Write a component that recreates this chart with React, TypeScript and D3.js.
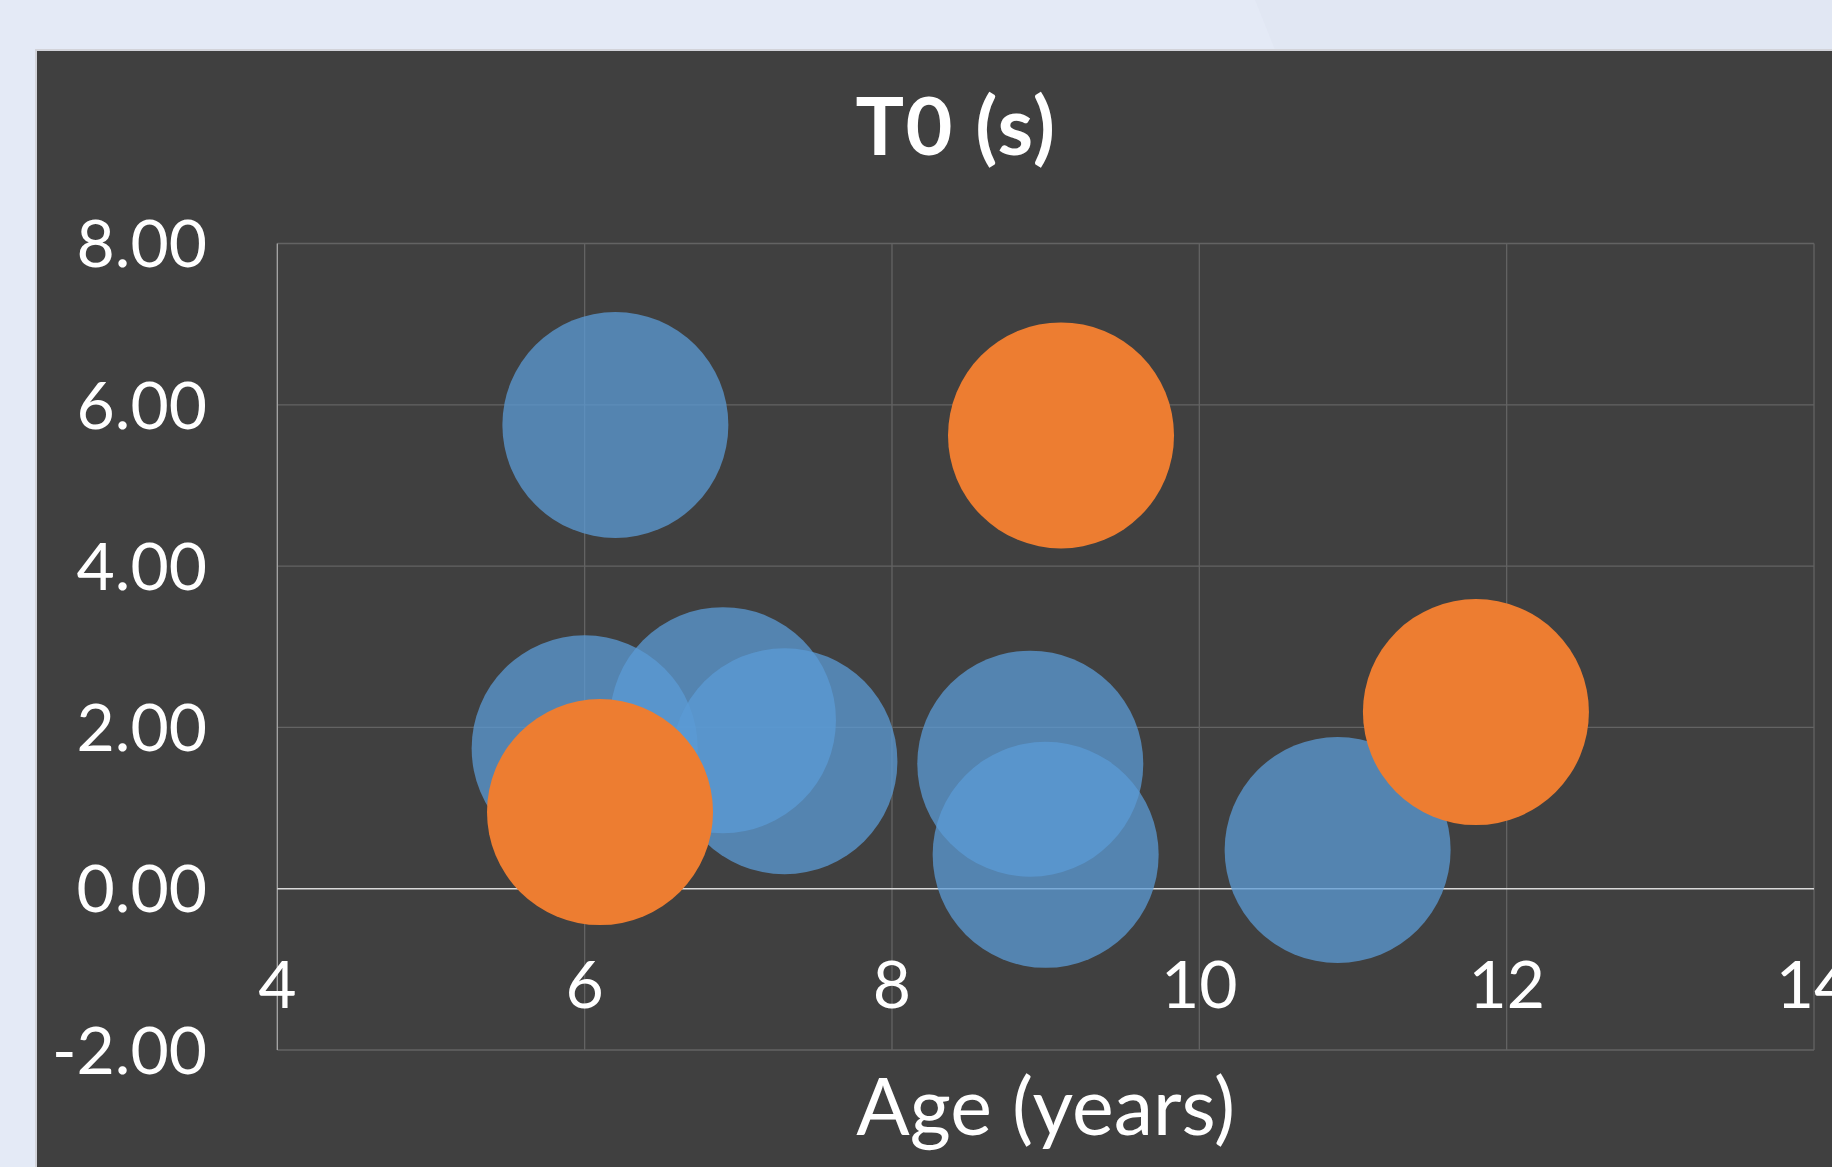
import React from 'react';
import * as d3 from 'd3';

// chart values
const title = 'T0 (s)';
const xTitle = 'Age (years)';
const xTicks = [4, 6, 8, 10, 12, 14];
const yTicks = [-2, 0, 2, 4, 6, 8];

const ageBlue = [6.2, 6.0, 6.9, 7.3, 8.9, 9.0, 10.9];
const t0Blue = [5.75, 1.74, 2.09, 1.58, 1.55, 0.42, 0.48];
const sizeBlue = [1, 1, 1, 1, 1, 1, 1];

const ageOrange = [9.1, 6.1, 11.8];
const t0Orange = [5.62, 0.95, 2.19];
const sizeOrange = [1, 1, 1];

const W = 1832;
const H = 1167;
const FONT = 'Lato, "Open Sans", sans-serif';

const locale = d3.formatLocale({
  decimal: '.',
  thousands: ',',
  grouping: [3],
  currency: ['', ''],
  minus: '-',
});
const fmtY = locale.format('.2f');

const App: React.FC = () => {
  const plot = { left: 277.3, right: 1814, top: 243.5, bottom: 1050 };

  const x = d3.scaleLinear().domain([4, 14]).range([plot.left, plot.right]);
  const y = d3.scaleLinear().domain([-2, 8]).range([plot.bottom, plot.top]);
  const r = d3
    .scaleSqrt()
    .domain([0, d3.max([...sizeBlue, ...sizeOrange]) as number])
    .range([0, 113]);

  const blue = ageBlue.map((a, i) => ({ a, t: t0Blue[i], s: sizeBlue[i] }));
  const orange = ageOrange.map((a, i) => ({ a, t: t0Orange[i], s: sizeOrange[i] }));

  return (
    <svg
      width={W}
      height={H}
      style={{ position: 'absolute', left: 0, top: 0, display: 'block' }}
    >
      {/* page background */}
      <rect x={0} y={0} width={W} height={H} fill="#e4eaf6" />
      <polygon points="1255,0 1832,0 1832,50 1275,50" fill="#e1e7f3" />

      {/* chart panel */}
      <rect
        x={36}
        y={50}
        width={1900}
        height={1300}
        fill="#404040"
        stroke="#d2d3d9"
        strokeWidth={2}
      />

      {/* gridlines */}
      <g stroke="#636363" strokeWidth={1.3}>
        {yTicks
          .filter((t) => t !== 0)
          .map((t) => (
            <line key={'gy' + t} x1={plot.left} x2={plot.right} y1={y(t)} y2={y(t)} />
          ))}
        {xTicks
          .filter((t) => t !== 4)
          .map((t) => (
            <line key={'gx' + t} x1={x(t)} x2={x(t)} y1={plot.top} y2={plot.bottom} />
          ))}
      </g>
      {/* axis lines */}
      <line x1={x(4)} x2={x(4)} y1={plot.top} y2={plot.bottom} stroke="#a8a8a8" strokeWidth={1.3} />
      <line x1={plot.left} x2={plot.right} y1={y(0)} y2={y(0)} stroke="#d9d9d9" strokeWidth={1.6} />

      {/* bubbles */}
      <g>
        {blue.map((d, i) => (
          <circle key={'b' + i} cx={x(d.a)} cy={y(d.t)} r={r(d.s)} fill="#5b9bd5" fillOpacity={0.75} />
        ))}
      </g>
      <g>
        {orange.map((d, i) => (
          <circle key={'o' + i} cx={x(d.a)} cy={y(d.t)} r={r(d.s)} fill="#ed7d31" />
        ))}
      </g>

      {/* y tick labels */}
      <g fill="#ffffff" fontFamily={FONT} fontSize={66} textAnchor="end">
        {yTicks.map((t) => (
          <text key={'ly' + t} x={207} y={y(t)} dy="0.36em">
            {fmtY(t)}
          </text>
        ))}
      </g>

      {/* x tick labels */}
      <g fill="#ffffff" fontFamily={FONT} fontSize={66} textAnchor="middle">
        {xTicks.map((t) => (
          <text key={'lx' + t} x={x(t)} y={1008}>
            {t}
          </text>
        ))}
      </g>

      {/* titles */}
      <text
        x={956}
        y={155}
        fill="#ffffff"
        fontFamily={FONT}
        fontWeight="bold"
        fontSize={81}
        textAnchor="middle"
        letterSpacing={1.5}
      >
        {title}
      </text>
      <text
        x={(plot.left + plot.right) / 2}
        y={1135}
        fill="#ffffff"
        fontFamily={FONT}
        fontSize={79}
        textAnchor="middle"
      >
        {xTitle}
      </text>
    </svg>
  );
};

export default App;
